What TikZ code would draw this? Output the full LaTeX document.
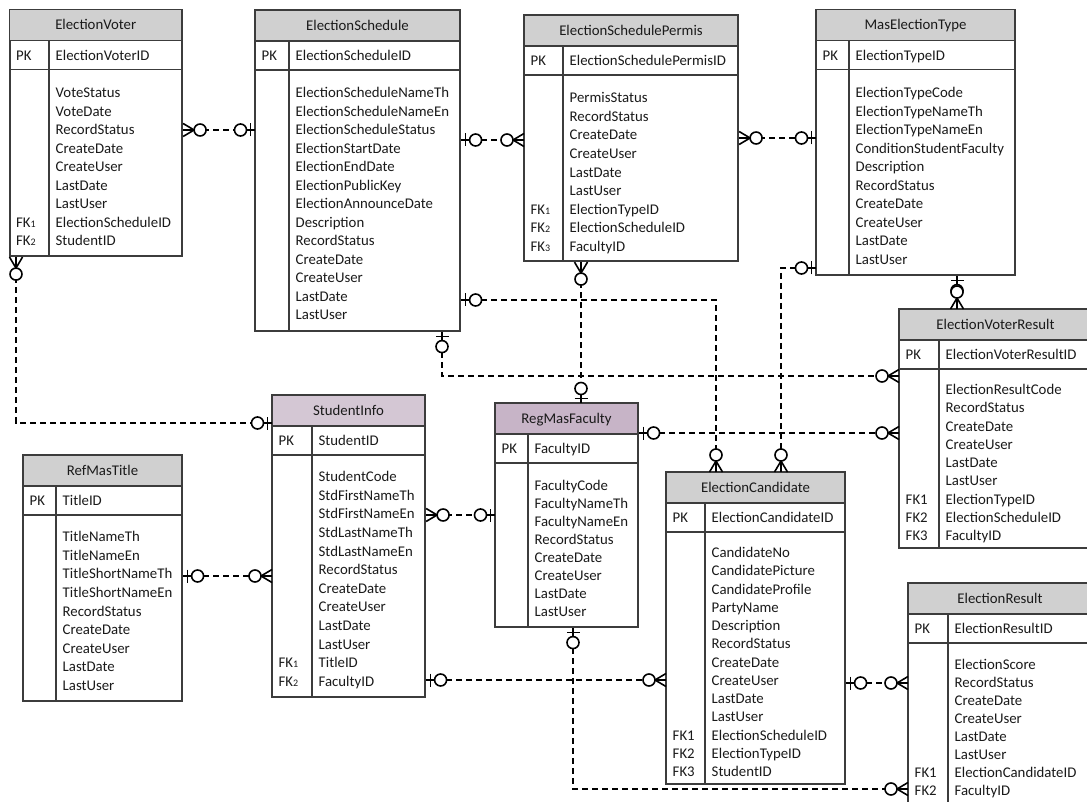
\documentclass[tikz,border=0pt]{standalone}
\usepackage{fontspec}
\setmainfont{Carlito}
\definecolor{hdr}{HTML}{D0D0D0}
\definecolor{hdrA}{HTML}{D4C7D4}
\definecolor{hdrB}{HTML}{C7B4C7}
\definecolor{ink}{HTML}{1A1A1A}
\definecolor{rulec}{HTML}{3C3C3C}
\newcommand\fksub[1]{FK{\fontsize{10}{10}\selectfont #1}}
\tikzset{
  every node/.style={font=\fontsize{14.8}{17}\selectfont, text=ink},
  txt/.style={anchor=base west, inner sep=0pt},
  ttl/.style={anchor=base, inner sep=0pt},
  tabline/.style={draw=rulec, line width=1.1pt},
  rel/.style={draw=black, line width=1.6pt, dash pattern=on 6pt off 4pt},
  sym/.style={draw=black, line width=1.6pt, solid},
  onezero/.pic={\draw[sym] (0,0) -- (14,0); \draw[sym] (4.5,-6.5) -- (4.5,6.5); \draw[sym, fill=white] (14.5,0) circle (6pt);},
  manyzero/.pic={\draw[sym] (0,-6.5) -- (11,0) -- (0,6.5); \draw[sym] (0,0) -- (11,0); \draw[sym, fill=white] (17,0) circle (6pt);},
}
% #1 name #2 L #3 T #4 R #5 D #6 B #7 fill #8 title
\newcommand\ertbox[8]{%
  \node[tabline, anchor=north west, minimum width={(#4-#2)*1pt}, minimum height={(#6-#3)*1pt}, inner sep=0pt, fill=white] (#1) at (#2,#3) {};
  \fill[#7] (#2,#3) rectangle (#4,#3+31);
  \draw[tabline] (#2,#3) rectangle (#4,#6);
  \draw[tabline] (#2,#3+31) -- (#4,#3+31);
  \draw[tabline] (#2,#3+60) -- (#4,#3+60);
  \draw[tabline] (#5,#3+31) -- (#5,#6);
  \node[ttl] (#1-t) at ({(#2+#4)/2},#3+20.2) {#8};
  \def\curL{#2}\def\curT{#3}\def\curD{#5}%
}
% #1 name #2 first row centre #3 spacing #4 pk #5 rows
\newcommand\ertrows[5]{%
  \node[txt] (#1-pkk) at (\curL+6.5,\curT+50.7) {PK};
  \node[txt] (#1-pk) at (\curD+6.5,\curT+50.7) {#4};
  \foreach \k/\f [count=\i] in {#5} {
    \node[txt] (#1-k\i) at (\curL+6.5,{#2+4.7+(\i-1)*#3}) {\k};
    \node[txt] (#1-f\i) at (\curD+6.5,{#2+4.7+(\i-1)*#3}) {\f};
  }%
}
\begin{document}
\begin{tikzpicture}[x=1pt,y=-1pt]
\useasboundingbox (0,0) rectangle (1087,802);
\clip (0,0) rectangle (1087,802);
\fill[white] (0,0) rectangle (1087,802);

% ---------- tables ----------
\ertbox{EV}{9.5}{9.5}{182}{49}{256}{hdr}{ElectionVoter}
\ertrows{EV}{93}{18.5}{ElectionVoterID}{/VoteStatus,/VoteDate,/RecordStatus,/CreateDate,/CreateUser,/LastDate,/LastUser,\fksub1/ElectionScheduleID,\fksub2/StudentID}

\ertbox{ES}{255}{10}{460}{289}{331}{hdr}{ElectionSchedule}
\ertrows{ES}{93}{18.5}{ElectionScheduleID}{/ElectionScheduleNameTh,/ElectionScheduleNameEn,/ElectionScheduleStatus,/ElectionStartDate,/ElectionEndDate,/ElectionPublicKey,/ElectionAnnounceDate,/Description,/RecordStatus,/CreateDate,/CreateUser,/LastDate,/LastUser}

\ertbox{ESP}{524}{15}{738}{563}{261}{hdr}{ElectionSchedulePermis}
\ertrows{ESP}{98}{18.6}{ElectionSchedulePermisID}{/PermisStatus,/RecordStatus,/CreateDate,/CreateUser,/LastDate,/LastUser,\fksub1/ElectionTypeID,\fksub2/ElectionScheduleID,\fksub3/FacultyID}

\ertbox{MET}{816}{9.5}{1015}{849}{275}{hdr}{MasElectionType}
\ertrows{MET}{93}{18.5}{ElectionTypeID}{/ElectionTypeCode,/ElectionTypeNameTh,/ElectionTypeNameEn,/ConditionStudentFaculty,/Description,/RecordStatus,/CreateDate,/CreateUser,/LastDate,/LastUser}

\ertbox{SI}{272}{395}{425}{312}{697}{hdrA}{StudentInfo}
\ertrows{SI}{477}{18.6}{StudentID}{/StudentCode,/StdFirstNameTh,/StdFirstNameEn,/StdLastNameTh,/StdLastNameEn,/RecordStatus,/CreateDate,/CreateUser,/LastDate,/LastUser,\fksub1/TitleID,\fksub2/FacultyID}

\ertbox{RMT}{23}{455}{182}{56}{701}{hdr}{RefMasTitle}
\ertrows{RMT}{537}{18.6}{TitleID}{/TitleNameTh,/TitleNameEn,/TitleShortNameTh,/TitleShortNameEn,/RecordStatus,/CreateDate,/CreateUser,/LastDate,/LastUser}

\ertbox{RMF}{495}{403}{638}{528}{627}{hdrB}{RegMasFaculty}
\ertrows{RMF}{486}{17.9}{FacultyID}{/FacultyCode,/FacultyNameTh,/FacultyNameEn,/RecordStatus,/CreateDate,/CreateUser,/LastDate,/LastUser}

\ertbox{EC}{666}{472}{845}{705}{784}{hdr}{ElectionCandidate}
\ertrows{EC}{553}{18.25}{ElectionCandidateID}{/CandidateNo,/CandidatePicture,/CandidateProfile,/PartyName,/Description,/RecordStatus,/CreateDate,/CreateUser,/LastDate,/LastUser,FK1/ElectionScheduleID,FK2/ElectionTypeID,FK3/StudentID}

\ertbox{EVR}{899}{309}{1092}{939}{548}{hdr}{ElectionVoterResult}
\ertrows{EVR}{390}{18.25}{ElectionVoterResultID}{/ElectionResultCode,/RecordStatus,/CreateDate,/CreateUser,/LastDate,/LastUser,FK1/ElectionTypeID,FK2/ElectionScheduleID,FK3/FacultyID}

\ertbox{ER}{908}{583}{1092}{948}{830}{hdr}{ElectionResult}
\ertrows{ER}{665}{18}{ElectionResultID}{/ElectionScore,/RecordStatus,/CreateDate,/CreateUser,/LastDate,/LastUser,FK1/ElectionCandidateID,FK2/FacultyID}

% ---------- connection points ----------
\coordinate (c1a) at (EV.east |- 0,130);   \coordinate (c1b) at (ES.west |- 0,130);
\coordinate (c2a) at (ES.east |- 0,140);   \coordinate (c2b) at (ESP.west |- 0,140);
\coordinate (c3a) at (ESP.east |- 0,138);  \coordinate (c3b) at (MET.west |- 0,138);
\coordinate (c4a) at (16,0 |- EV.south);   \coordinate (c4b) at (SI.west |- 0,423);
\coordinate (c5a) at (RMT.east |- 0,576);  \coordinate (c5b) at (SI.west |- 0,576);
\coordinate (c6a) at (SI.east |- 0,515);   \coordinate (c6b) at (RMF.west |- 0,515);
\coordinate (c7a) at (SI.east |- 0,680);   \coordinate (c7b) at (EC.west |- 0,680);
\coordinate (c8a) at (581,0 |- ESP.south); \coordinate (c8b) at (581,0 |- RMF.north);
\coordinate (c9a) at (ES.east |- 0,300);   \coordinate (c9b) at (716,0 |- EC.north);
\coordinate (c10a) at (442,0 |- ES.south); \coordinate (c10b) at (EVR.west |- 0,376);
\coordinate (c11a) at (MET.west |- 0,268); \coordinate (c11b) at (781,0 |- EC.north);
\coordinate (c12a) at (RMF.east |- 0,433); \coordinate (c12b) at (EVR.west |- 0,433);
\coordinate (c13a) at (957,0 |- MET.south);\coordinate (c13b) at (957,0 |- EVR.north);
\coordinate (c14a) at (573,0 |- RMF.south);\coordinate (c14b) at (ER.west |- 0,789);
\coordinate (c15a) at (EC.east |- 0,683);  \coordinate (c15b) at (ER.west |- 0,683);

% ---------- relationship lines ----------
\draw[rel] (c1a) -- (c1b);
\draw[rel] (c2a) -- (c2b);
\draw[rel] (c3a) -- (c3b);
\draw[rel] (c4a) |- (c4b);
\draw[rel] (c5a) -- (c5b);
\draw[rel] (c6a) -- (c6b);
\draw[rel] (c7a) -- (c7b);
\draw[rel] (c8a) -- (c8b);
\draw[rel] (c9a) -| (c9b);
\draw[rel] (c10a) |- (c10b);
\draw[rel] (c11a) -| (c11b);
\draw[rel] (c12a) -- (c12b);
\draw[rel] (c13a) -- (c13b);
\draw[rel] (c14a) |- (c14b);
\draw[rel] (c15a) -- (c15b);

% ---------- end symbols ----------
\pic at (c1a) {manyzero};            \pic[rotate=180] at (c1b) {onezero};
\pic at (c2a) {onezero};             \pic[rotate=180] at (c2b) {manyzero};
\pic at (c3a) {manyzero};            \pic[rotate=180] at (c3b) {onezero};
\pic[rotate=-90] at (c4a) {manyzero};\pic[rotate=180] at (c4b) {onezero};
\pic at (c5a) {onezero};             \pic[rotate=180] at (c5b) {manyzero};
\pic at (c6a) {manyzero};            \pic[rotate=180] at (c6b) {onezero};
\pic at (c7a) {onezero};             \pic[rotate=180] at (c7b) {manyzero};
\pic[rotate=-90] at (c8a) {manyzero};\pic[rotate=90] at (c8b) {onezero};
\pic at (c9a) {onezero};             \pic[rotate=90] at (c9b) {manyzero};
\pic[rotate=-90] at (c10a) {onezero};\pic[rotate=180] at (c10b) {manyzero};
\pic[rotate=180] at (c11a) {onezero};\pic[rotate=90] at (c11b) {manyzero};
\pic at (c12a) {onezero};            \pic[rotate=180] at (c12b) {manyzero};
\pic[rotate=-90] at (c13a) {onezero};\pic[rotate=90] at (c13b) {manyzero};
\pic[rotate=-90] at (c14a) {onezero};\pic[rotate=180] at (c14b) {manyzero};
\pic at (c15a) {onezero};            \pic[rotate=180] at (c15b) {manyzero};
\end{tikzpicture}
\end{document}
